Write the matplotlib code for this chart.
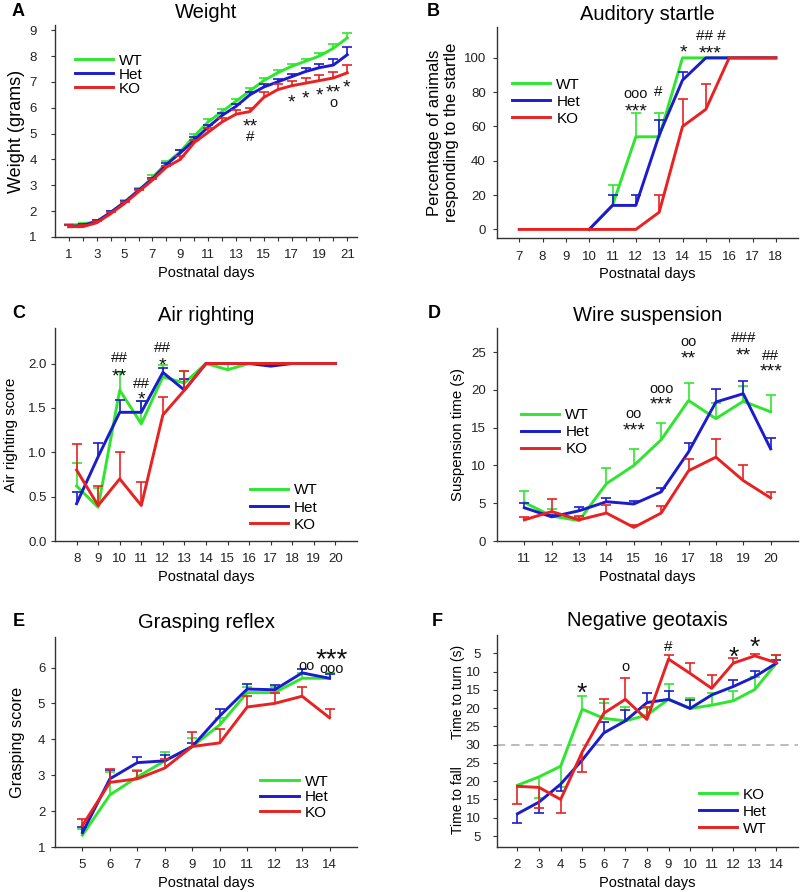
import numpy as np
from matplotlib import pyplot as plt

plt.rcParams["font.family"] = ["Liberation Sans", "DejaVu Sans"]

GREEN = "#2fe62f"
BLUE = "#1c1ccc"
RED = "#e82222"
nan = np.nan

# A - weight
a_days = np.arange(1, 22)
a_wt = [1.45, 1.5, 1.6, 1.95, 2.35, 2.8, 3.3, 3.85, 4.3, 4.9, 5.45, 5.85, 6.25, 6.65, 7.05, 7.35, 7.6, 7.8, 8.0, 8.3, 8.7]
a_wt_bar = [1.5, 1.55, 1.65, 2.0, 2.42, 2.88, 3.38, 3.93, 4.38, 4.98, 5.55, 5.95, 6.35, 6.75, 7.15, 7.45, 7.7, 7.88, 8.1, 8.45, 8.9]
a_het = [1.4, 1.45, 1.6, 1.95, 2.35, 2.8, 3.25, 3.8, 4.25, 4.75, 5.25, 5.7, 6.05, 6.5, 6.8, 7.0, 7.2, 7.4, 7.55, 7.65, 8.05]
a_het_bar = [1.45, 1.5, 1.65, 2.0, 2.4, 2.85, 3.3, 3.85, 4.35, 4.85, 5.35, 5.8, 6.15, 6.6, 6.9, 7.1, 7.3, 7.55, 7.7, 7.9, 8.35]
a_ko = [1.4, 1.4, 1.55, 1.9, 2.3, 2.75, 3.2, 3.7, 4.0, 4.65, 5.05, 5.45, 5.75, 5.85, 6.4, 6.7, 6.85, 6.95, 7.05, 7.15, 7.35]
a_ko_bar = [1.45, 1.45, 1.6, 1.95, 2.35, 2.8, 3.25, 3.75, 4.15, 4.75, 5.2, 5.6, 5.9, 6.0, 6.6, 6.9, 7.05, 7.15, 7.25, 7.38, 7.65]
a_marks = [(14, 5.4, "**"), (14, 4.85, "#"), (17, 6.35, "*"), (18, 6.5, "*"), (19, 6.62, "*"),
           (20, 6.72, "**"), (20, 6.2, "o"), (20.95, 6.9, "*")]

# B - auditory startle
b_days = np.arange(7, 19)
b_wt = [nan, nan, nan, 0, 14, 54, 54, 100, 100, 100, 100, 100]
b_wt_bar = [nan, nan, nan, nan, 26, 68, 68, nan, nan, nan, nan, nan]
b_het = [nan, nan, nan, 0, 14, 14, 55, 87, 100, 100, 100, 100]
b_het_bar = [nan, nan, nan, nan, 20, 20, 64, 92, nan, nan, nan, nan]
b_ko = [0, 0, 0, 0, 0, 0, 10, 60, 70, 100, 100, 100]
b_ko_bar = [nan, nan, nan, nan, nan, nan, 20, 76, 85, nan, nan, nan]
b_marks = [(12, 79, "ooo"), (12, 71, "***"), (12.95, 80, "#"), (14.03, 105, "*"),
           (15.2, 113, "## #"), (15.2, 104.5, "***")]

# C - air righting
c_days = np.arange(8, 21)
c_wt = [0.62, 0.38, 1.7, 1.32, 1.85, 1.78, 2.0, 1.93, 2.0, 2.0, 2.0, 2.0, 2.0]
c_wt_bar = [0.88, 0.6, 1.9, 1.58, 1.98, 1.92, nan, 2.0, nan, nan, nan, nan, nan]
c_het = [0.42, 0.95, 1.45, 1.45, 1.9, 1.7, 2.0, 2.0, 2.0, 1.97, 2.0, 2.0, 2.0]
c_het_bar = [0.55, 1.1, 1.59, 1.58, 1.95, 1.82, nan, nan, nan, 2.0, nan, nan, nan]
c_ko = [0.8, 0.4, 0.7, 0.4, 1.42, 1.7, 2.0, 2.0, 2.0, 2.0, 2.0, 2.0, 2.0]
c_ko_bar = [1.09, 0.62, 1.0, 0.67, 1.62, 1.92, nan, nan, nan, nan, nan, nan, nan]
c_marks = [(10, 2.06, "##"), (10, 1.89, "**"), (11, 1.77, "##"), (11, 1.63, "*"),
           (12, 2.17, "##"), (12, 2.02, "*")]

# D - wire suspension
d_days = np.arange(11, 21)
d_wt = [5.1, 3.3, 2.7, 7.6, 10.0, 13.4, 18.6, 16.2, 18.5, 17.1]
d_wt_bar = [6.6, 4.3, 3.2, 9.6, 12.2, 15.6, 20.9, 18.3, 20.5, 19.3]
d_het = [4.4, 3.2, 4.0, 5.2, 4.9, 6.5, 11.8, 18.4, 19.5, 12.2]
d_het_bar = [5.0, 3.5, 4.5, 5.7, 5.3, 7.0, 13.0, 20.1, 21.2, 13.7]
d_ko = [2.8, 3.9, 2.8, 3.7, 1.8, 3.7, 9.3, 11.1, 8.0, 5.7]
d_ko_bar = [3.2, 5.6, 3.3, 4.8, 2.1, 4.6, 10.9, 13.5, 10.0, 6.5]
d_marks = [(15, 16.8, "oo"), (15, 15.1, "***"), (16, 20.1, "ooo"), (16, 18.5, "***"),
           (17, 26.3, "oo"), (17, 24.6, "**"), (19, 26.9, "###"), (19, 25.0, "**"),
           (20, 24.5, "##"), (20, 22.9, "***")]

# E - grasping reflex
e_days = np.arange(5, 15)
e_wt = [1.33, 2.45, 2.95, 3.4, 3.8, 4.4, 5.3, 5.3, 5.7, 5.7]
e_wt_bar = [1.5, 3.1, 3.15, 3.65, 4.05, 4.6, 5.45, 5.45, 5.85, 5.85]
e_het = [1.4, 2.9, 3.35, 3.4, 3.8, 4.65, 5.4, 5.38, 5.85, 5.7]
e_het_bar = [1.55, 3.15, 3.5, 3.55, 3.9, 4.85, 5.55, 5.52, 5.97, 5.82]
e_ko = [1.6, 2.8, 2.9, 3.2, 3.8, 3.9, 4.9, 5.0, 5.2, 4.6]
e_ko_bar = [1.77, 3.18, 3.12, 3.45, 4.2, 4.28, 5.22, 5.3, 5.45, 4.85]
e_marks = [(13.15, 6.04, "oo"), (14.08, 5.97, "ooo")]
e_big = [(14.08, 6.37, "***")]

# F - negative geotaxis (axis units: above 30 = 60 - time to turn, below 30 = time to fall)
f_days = np.arange(2, 15)
f_ko = [18.9, 21.2, 24.1, 39.7, 37.2, 36.5, 38.1, 42.4, 39.9, 40.8, 42.0, 45.1, 52.3]
f_ko_bar = [nan, 15.4, 18.4, 43.4, 41.3, 40.4, 40.0, 46.6, 42.7, 44.2, 44.8, 48.6, 54.5]
f_het = [11.1, 14.3, 19.2, 25.8, 33.2, 36.5, 41.5, 42.4, 39.9, 43.6, 45.9, 48.6, 52.3]
f_het_bar = [8.7, 11.4, 17.3, nan, 36.3, 39.5, 44.0, 44.8, 42.2, nan, 47.7, 50.2, 53.2]
f_wt = [18.6, 18.3, 15.0, 28.0, 38.6, 42.4, 36.9, 53.4, 49.5, 45.4, 52.3, 54.3, 52.4]
f_wt_bar = [13.7, 12.7, 11.3, 22.5, 42.5, 48.3, 40.4, 54.6, 52.4, 49.1, 53.6, 54.8, 54.5]
f_yticks = [55, 50, 45, 40, 35, 30, 25, 20, 15, 10, 5]
f_ylabels = ["5", "10", "15", "20", "25", "30", "25", "20", "15", "10", "5"]
f_marks = [(7, 51.2, "o"), (9, 56.7, "#")]
f_big = [(5, 45.4, "*"), (12, 55.3, "*"), (13, 57.8, "*")]

fig = plt.figure(figsize=(8, 8.92), dpi=100)
W, H = 800.0, 892.0


def make_ax(left, top, right, bottom, ypad):
    ax = fig.add_axes([left / W, 1 - bottom / H, (right - left) / W, (bottom - top) / H])
    for s in ["top", "right"]:
        ax.spines[s].set_visible(False)
    for s in ["left", "bottom"]:
        ax.spines[s].set_color("#333333")
        ax.spines[s].set_linewidth(1.0)
    ax.tick_params(direction="out", length=3, width=0.8, color="#333333",
                   labelsize=9.5, pad=6, labelcolor="#222222")
    ax.tick_params(axis="y", pad=ypad)
    return ax


def series(ax, x, y, bar, color, label):
    y = np.array(y, dtype=float)
    bar = np.array(bar, dtype=float)
    ok = ~np.isnan(bar) & ~np.isnan(y)
    ax.vlines(x[ok], y[ok], bar[ok], color=color, lw=1.2)
    ax.plot(x[ok], bar[ok], ls="none", marker="_", ms=7, mew=1.2, color=color)
    ax.plot(x, y, color=color, lw=2.1, label=label)


def finish(ax, letter, letter_xy, title, tpad, ylabel, ysize, ylab_x, leg_xy,
           spacing=0.2, labels=("WT", "Het", "KO")):
    ax.set_title(title, fontsize=14.5, pad=tpad)
    fig.text(letter_xy[0] / W, 1 - letter_xy[1] / H, letter, fontsize=13,
             fontweight="bold", ha="left", va="center")
    ax.set_xlabel("Postnatal days", fontsize=10.5, labelpad=3)
    if ylabel:
        ax.set_ylabel(ylabel, fontsize=ysize)
        ax.yaxis.set_label_coords(ylab_x, 0.5)
    h, l = ax.get_legend_handles_labels()
    ax.legend(h, labels, loc="upper left", bbox_to_anchor=leg_xy, frameon=False,
              fontsize=11, handlelength=2.5, handletextpad=0.4, labelspacing=spacing,
              borderpad=0, borderaxespad=0)


def marks(ax, items, star_size=14):
    for x, y, t in items:
        if set(t) <= {"*", " "}:
            # star glyphs sit high in the em box, pull them down a little
            size, dy = star_size, -0.2 * star_size
        elif "#" in t:
            size, dy = 11, 0
        else:
            size, dy = 10.5, 0
        ax.annotate(t, (x, y), xytext=(0, dy), textcoords="offset points",
                    ha="center", va="center", fontsize=size, color="#111111")


# A
ax = make_ax(55, 25, 357, 237, ypad=10)
series(ax, a_days, a_wt, a_wt_bar, GREEN, "WT")
series(ax, a_days, a_het, a_het_bar, BLUE, "Het")
series(ax, a_days, a_ko, a_ko_bar, RED, "KO")
ax.set_xlim(0, 21.7)
ax.set_ylim(1, 9.2)
ax.set_xticks(a_days)
ax.set_xticklabels([str(d) if d % 2 else "" for d in a_days])
ax.set_yticks(range(1, 10))
marks(ax, a_marks)
finish(ax, "A", (12, 11), "Weight", 5, "Weight (grams)", 13, -0.099, (0.065, 0.865), spacing=0.0)

# B
ax = make_ax(497, 27, 798, 238, ypad=5)
series(ax, b_days, b_wt, b_wt_bar, GREEN, "WT")
series(ax, b_days, b_het, b_het_bar, BLUE, "Het")
series(ax, b_days, b_ko, b_ko_bar, RED, "KO")
ax.set_xlim(6.05, 18.95)
ax.set_ylim(-5, 118)
ax.set_xticks(b_days)
ax.set_yticks(range(0, 101, 20))
marks(ax, b_marks)
finish(ax, "B", (427, 11), "Auditory startle", 5, "Percentage of animals\nresponding to the startle",
       12, -0.126, (0.05, 0.76))

# C
ax = make_ax(55, 328, 357, 541, ypad=3)
series(ax, c_days, c_wt, c_wt_bar, GREEN, "WT")
series(ax, c_days, c_het, c_het_bar, BLUE, "Het")
series(ax, c_days, c_ko, c_ko_bar, RED, "KO")
ax.set_xlim(7, 21)
ax.set_ylim(0, 2.4)
ax.set_xticks(c_days)
ax.set_yticks(np.arange(0, 2.01, 0.5))
ax.yaxis.set_major_formatter("{x:.1f}")
marks(ax, c_marks)
finish(ax, "C", (12, 313), "Air righting", 5, "Air righting score", 11, -0.122, (0.645, 0.27))

# D
ax = make_ax(497, 328, 798, 541, ypad=5)
series(ax, d_days, d_wt, d_wt_bar, GREEN, "WT")
series(ax, d_days, d_het, d_het_bar, BLUE, "Het")
series(ax, d_days, d_ko, d_ko_bar, RED, "KO")
ax.set_xlim(10, 21)
ax.set_ylim(0, 28.2)
ax.set_xticks(d_days)
ax.set_yticks(range(0, 26, 5))
marks(ax, d_marks)
finish(ax, "D", (428, 313), "Wire suspension", 5, "Suspension time (s)", 10.8, -0.106, (0.08, 0.625))

# E
ax = make_ax(55, 637, 357, 847, ypad=4)
series(ax, e_days, e_wt, e_wt_bar, GREEN, "WT")
series(ax, e_days, e_het, e_het_bar, BLUE, "Het")
series(ax, e_days, e_ko, e_ko_bar, RED, "KO")
ax.set_xlim(4, 15)
ax.set_ylim(1, 6.85)
ax.set_xticks(e_days)
ax.set_yticks(range(1, 7))
marks(ax, e_marks)
marks(ax, e_big, star_size=20)
finish(ax, "E", (13, 622), "Grasping reflex", 6.5, "Grasping score", 11.8, -0.099, (0.68, 0.345),
       spacing=0.1)

# F
ax = make_ax(497, 635, 798, 847, ypad=9)
ax.axhline(30, color="#b0b0b0", lw=1.2, ls=(0, (5, 3.5)))
series(ax, f_days, f_ko, f_ko_bar, GREEN, "KO")
series(ax, f_days, f_het, f_het_bar, BLUE, "Het")
series(ax, f_days, f_wt, f_wt_bar, RED, "WT")
ax.set_xlim(1.05, 15)
ax.set_ylim(2, 60)
ax.set_xticks(f_days)
ax.set_yticks(f_yticks)
ax.set_yticklabels(f_ylabels)
marks(ax, f_marks)
marks(ax, f_big, star_size=19)
finish(ax, "F", (432, 622), "Negative geotaxis", 6.5, None, 0, 0, (0.67, 0.28),
       labels=("KO", "Het", "WT"))
ax.text(-0.13, 0.73, "Time to turn (s)", transform=ax.transAxes, rotation=90,
        ha="center", va="center", fontsize=10)
ax.text(-0.13, 0.22, "Time to fall", transform=ax.transAxes, rotation=90,
        ha="center", va="center", fontsize=10)

fig.savefig("out.png", dpi=100, facecolor="white")
